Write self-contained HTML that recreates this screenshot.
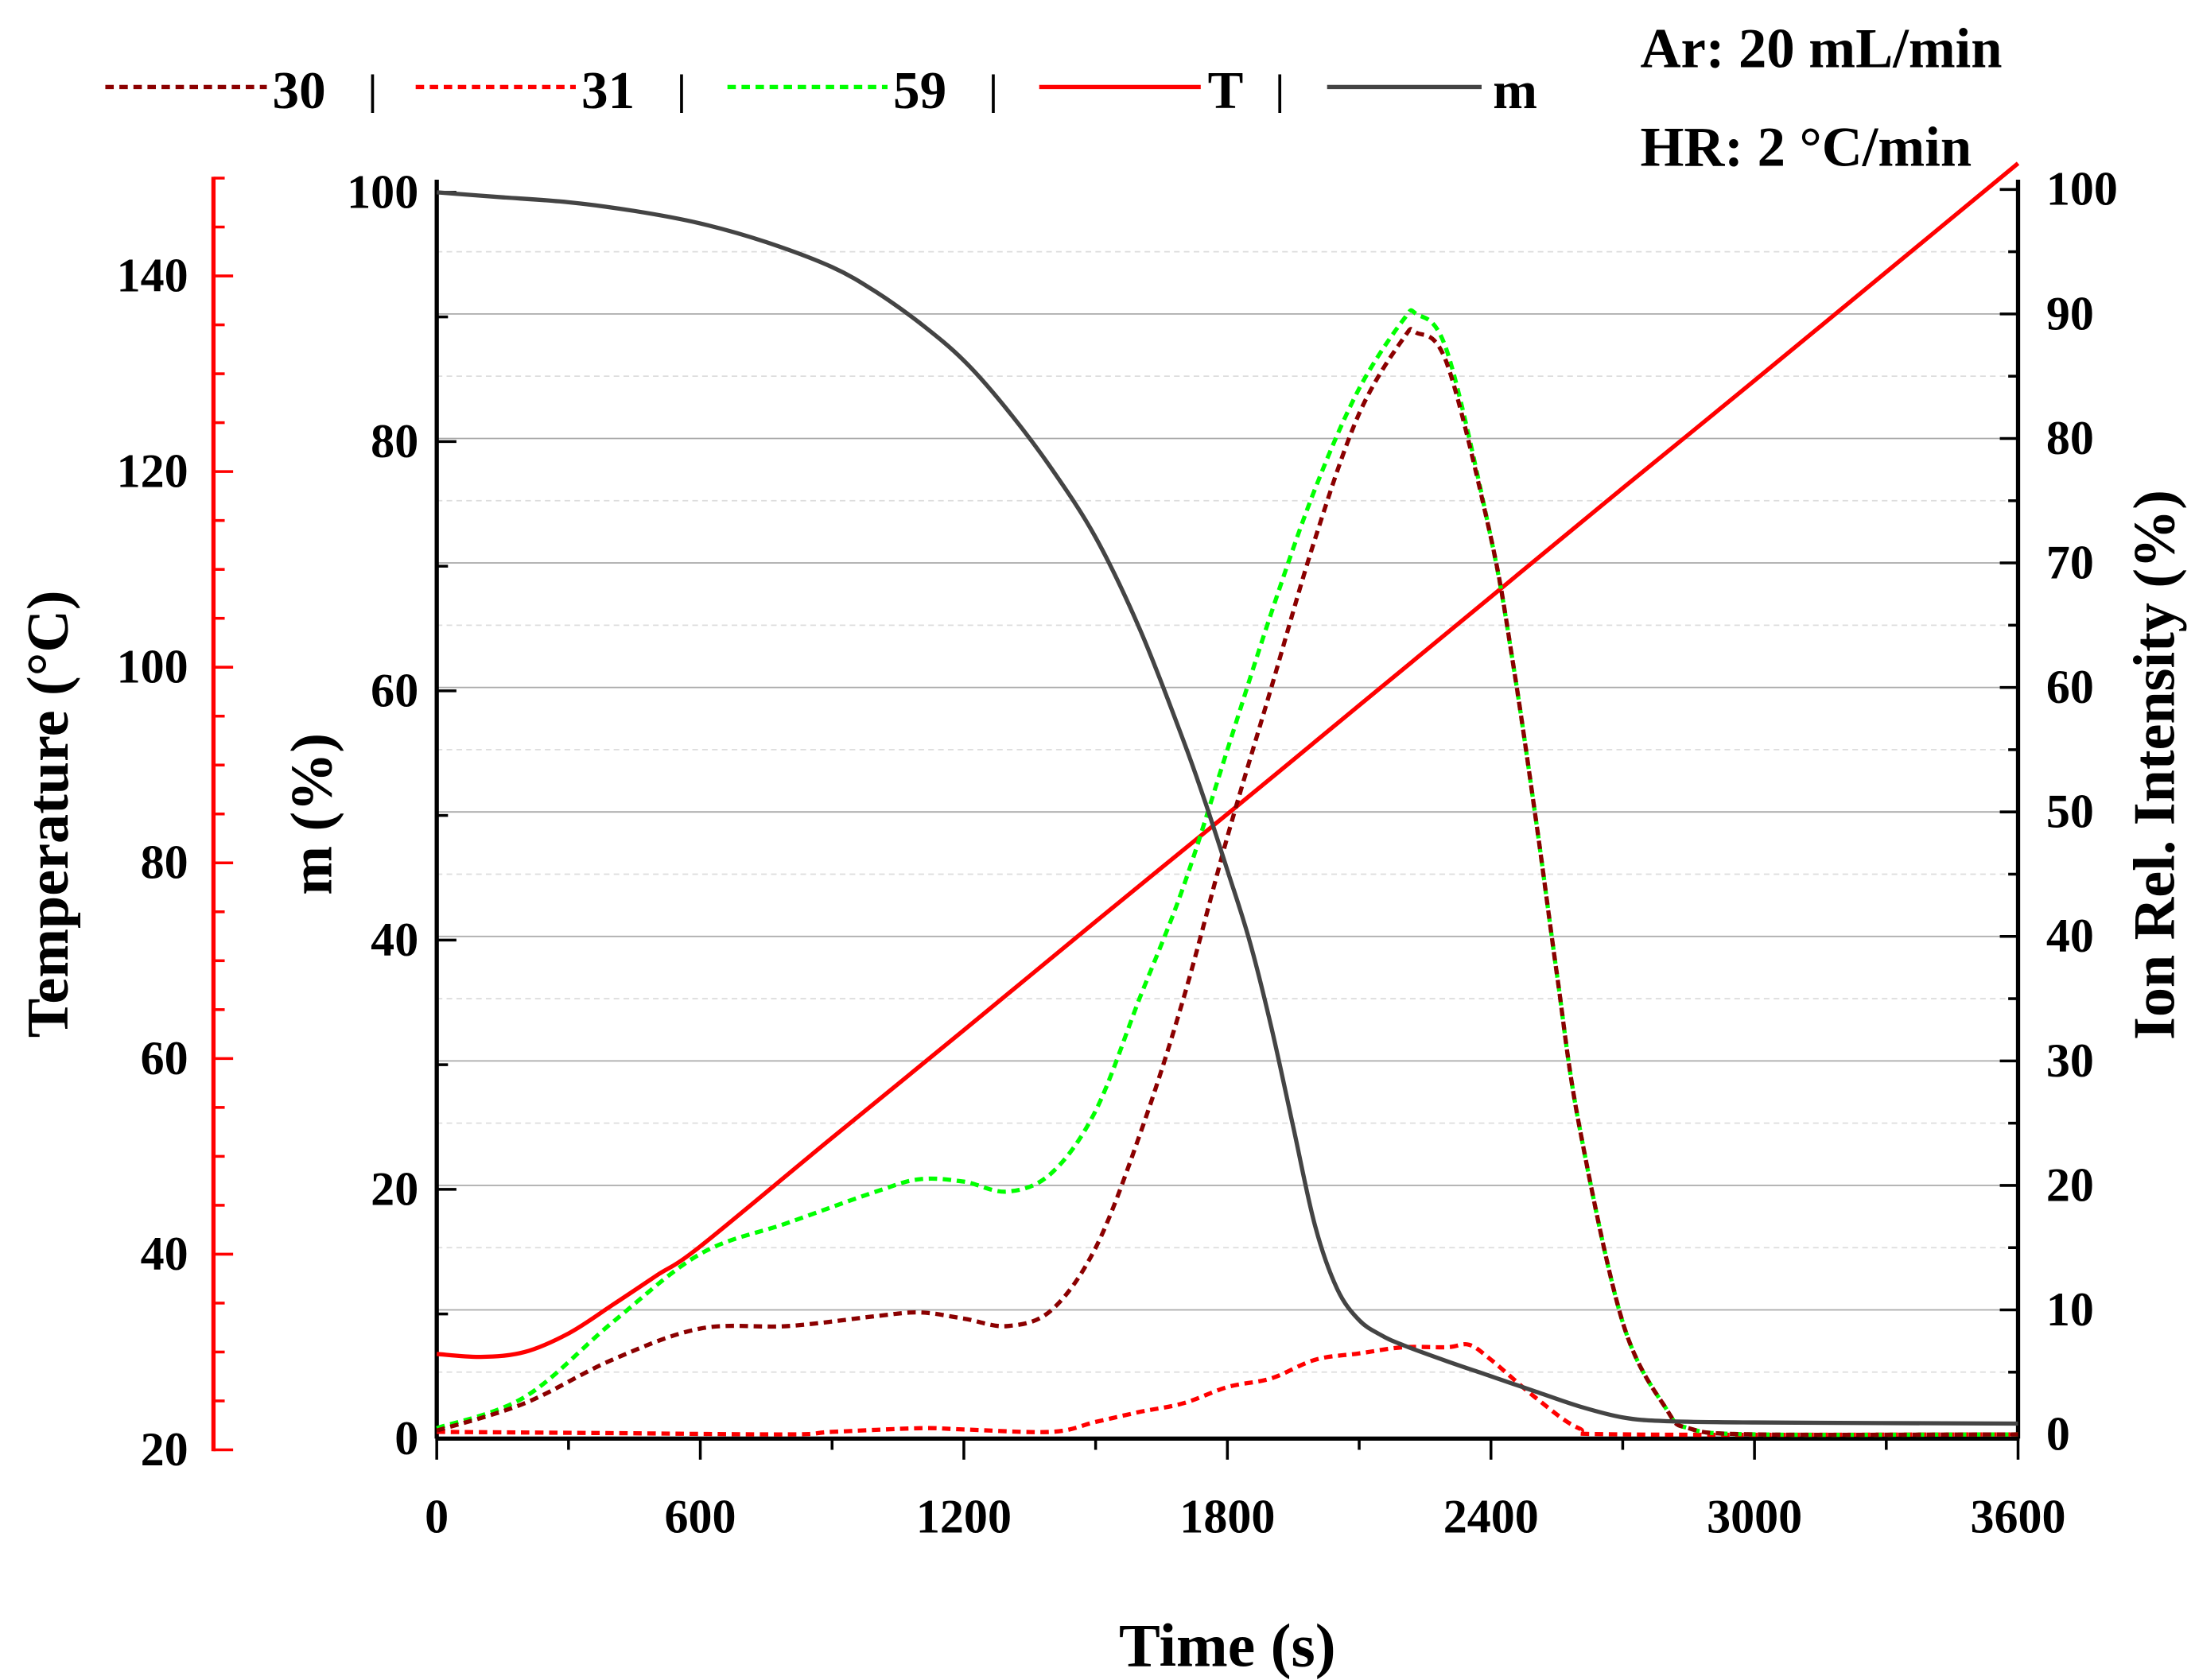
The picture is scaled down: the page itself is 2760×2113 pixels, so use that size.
<!DOCTYPE html>
<html><head><meta charset="utf-8"><style>
html,body{margin:0;padding:0;background:#fff}
svg{display:block}
text{font-family:"Liberation Serif",serif;font-weight:bold;fill:#000}
</style></head><body>
<svg id="chart" width="2760" height="2113" viewBox="0 0 1563 1197" preserveAspectRatio="none" xmlns="http://www.w3.org/2000/svg">
<g id="grid"></g>
<g id="axes"></g>
<g id="series"></g>
<g id="legend">
  <line x1="75" y1="62" x2="190" y2="62" stroke="#8b0000" stroke-width="3" stroke-dasharray="6,4"/>
  <text x="194" y="77" font-size="38">30</text><text x="262" y="74" font-size="30">|</text>
  <line x1="296" y1="62" x2="410" y2="62" stroke="#ff0000" stroke-width="3" stroke-dasharray="6,4"/>
  <text x="414" y="77" font-size="38">31</text><text x="482" y="74" font-size="30">|</text>
  <line x1="518" y1="62" x2="632" y2="62" stroke="#00ff00" stroke-width="3" stroke-dasharray="6,4"/>
  <text x="636" y="77" font-size="38">59</text><text x="704" y="74" font-size="30">|</text>
  <line x1="740" y1="62" x2="855" y2="62" stroke="#ff0000" stroke-width="3"/>
  <text x="860" y="77" font-size="38">T</text><text x="908" y="74" font-size="30">|</text>
  <line x1="945" y1="62" x2="1055" y2="62" stroke="#444" stroke-width="3"/>
  <text x="1063" y="77" font-size="38">m</text>
</g>
<text x="1168" y="48" font-size="40">Ar:  20 mL/min</text>
<text x="1168" y="118" font-size="40">HR: 2 °C/min</text>
<text x="874" y="1187" font-size="44" text-anchor="middle">Time (s)</text>
<text transform="translate(236,580) rotate(-90)" font-size="42" text-anchor="middle">m (%)</text>
<text transform="translate(48,580) rotate(-90)" font-size="42" text-anchor="middle">Temperature (°C)</text>
<text transform="translate(1548,545) rotate(-90)" font-size="42" text-anchor="middle">Ion Rel. Intensity (%)</text>
</svg>
<script>
const tM=[0,150,300,450,600,750,900,1000,1100,1200,1300,1400,1500,1600,1700,1750,1800,1850,1900,1950,2000,2050,2100,2150,2200,2300,2400,2500,2600,2700,2800,3000,3600];
const vM=[100,99.6,99.2,98.5,97.5,96,94,92,89.5,86.5,82.5,77.8,72.3,65,56,51,45.6,40,33,25,17,12,9.5,8.3,7.5,6.2,5,3.8,2.6,1.7,1.4,1.3,1.2];
const tIon=[0,200,400,600,800,1000,1100,1200,1300,1400,1500,1600,1700,1800,1900,2000,2100,2200,2230,2300,2400,2450,2500,2550,2600,2700,2800,2850,3000,3600];
const v59=[0.5,3,9,14.5,17,19.5,20.5,20.3,19.5,21,26,35,44,55,66,76,84,89.5,90,87,72,62,50,37,25,9,2,0.5,0,0];
const v30=[0.3,2.5,6,8.5,8.7,9.5,9.8,9.3,8.7,10,15,24,35,48,60,72,82,88,88.5,86,72,62,50,37,25,9,2,0.5,0,0];
const t31=[0,400,800,900,1100,1200,1400,1500,1600,1700,1800,1900,2000,2100,2200,2300,2350,2400,2500,2600,2700,3600];
const v31=[0.2,0.1,0,0.2,0.5,0.4,0.2,1,1.8,2.5,3.8,4.5,6,6.5,7,7,7.2,6,3,0.5,0,0];
const tT=[0,100,200,300,400,500,600,900,1200,1500,1800,2100,2400,2700,3000,3300,3600];
const vT=[29.8,29.5,30,31.9,34.8,37.8,40.8,51.9,62.9,74,85,96.1,107.2,118.3,129.3,140.4,151.5];
const xTicks=[0,600,1200,1800,2400,3000,3600];
const mTicks=[0,20,40,60,80,100];
const ionTicks=[0,10,20,30,40,50,60,70,80,90,100];
const tempTicks=[20,40,60,80,100,120,140];

const X=t=>311+t*(1437-311)/3600;
const YM=v=>1025-v*8.88;
const YI=v=>1022-v*8.87;
const YT=v=>1033-(v-20)*6.97;
const NS='http://www.w3.org/2000/svg';
function mk(tag,parent,attrs){const e=document.createElementNS(NS,tag);for(const k in attrs)e.setAttribute(k,attrs[k]);parent.appendChild(e);return e;}
const grid=document.getElementById('grid'),axes=document.getElementById('axes'),series=document.getElementById('series');
for(let v=5;v<100;v+=5){
  const g=mk('line',grid,{x1:311,x2:1437,y1:YI(v),y2:YI(v),stroke:v%10?'#ddd':'#aaa','stroke-width':1,'stroke-dasharray':v%10?'4,3':'none'});
  
  
}
function path(ts,vs,Y,color,dash,name){
  const P=ts.map((t,i)=>[X(t),Y(vs[i])]);
  let d='M'+P[0][0].toFixed(1)+','+P[0][1].toFixed(1);
  for(let i=0;i<P.length-1;i++){
    const p0=P[Math.max(0,i-1)],p1=P[i],p2=P[i+1],p3=P[Math.min(P.length-1,i+2)];
    const c1=[p1[0]+(p2[0]-p0[0])/6,p1[1]+(p2[1]-p0[1])/6];
    const c2=[p2[0]-(p3[0]-p1[0])/6,p2[1]-(p3[1]-p1[1])/6];
    d+=' C'+c1.map(n=>n.toFixed(1)).join(',')+' '+c2.map(n=>n.toFixed(1)).join(',')+' '+p2.map(n=>n.toFixed(1)).join(',');
  }
  const el=mk('path',series,{d:d,fill:'none',stroke:color,'stroke-width':3,'stroke-dasharray':dash,'stroke-linejoin':'round'});
  
  
}
path(tT,vT,YT,'#ff0000','none','temperature-line');
path(t31,v31,YI,'#ff0000','6,4','ion-31-line');
path(tIon,v59,YI,'#00ff00','6,4','ion-59-line');
path(tIon,v30,YI,'#8b0000','6,4','ion-30-line');
path(tM,vM,YM,'#444','none','mass-line');
mk('line',axes,{x1:311,x2:311,y1:128,y2:1025,stroke:'#000','stroke-width':3});
mk('line',axes,{x1:1437,x2:1437,y1:128,y2:1025,stroke:'#000','stroke-width':3});
mk('line',axes,{x1:310,x2:1438,y1:1025,y2:1025,stroke:'#000','stroke-width':3});
mk('line',axes,{x1:152,x2:152,y1:126,y2:1034,stroke:'#ff0000','stroke-width':3});
for(let t=0;t<=3600;t+=300){mk('line',axes,{x1:X(t),x2:X(t),y1:1025,y2:t%600?1033:1040,stroke:'#000','stroke-width':2});}
xTicks.forEach(t=>{const e=mk('text',axes,{x:X(t),y:1092,'font-size':34,'text-anchor':'middle'});e.textContent=t;
  
  });
for(let v=0;v<=100;v+=10){mk('line',axes,{x1:311,x2:v%20?319:325,y1:YM(v),y2:YM(v),stroke:'#000','stroke-width':2});}
mTicks.forEach(v=>{const e=mk('text',axes,{x:298,y:YM(v)+11,'font-size':34,'text-anchor':'end'});e.textContent=v;
  
  });
for(let v=0;v<=100;v+=5){mk('line',axes,{x1:1437,x2:v%10?1430:1424,y1:YI(v),y2:YI(v),stroke:'#000','stroke-width':2});}
ionTicks.forEach(v=>{const e=mk('text',axes,{x:1457,y:YI(v)+11,'font-size':34});e.textContent=v;
  
  });
for(let v=20;v<=150;v+=5){mk('line',axes,{x1:152,x2:v%20?160:166,y1:YT(v),y2:YT(v),stroke:'#ff0000','stroke-width':2});}
tempTicks.forEach(v=>{const e=mk('text',axes,{x:134,y:YT(v)+11,'font-size':34,'text-anchor':'end'});e.textContent=v;
  
  });
</script>
</body></html>
